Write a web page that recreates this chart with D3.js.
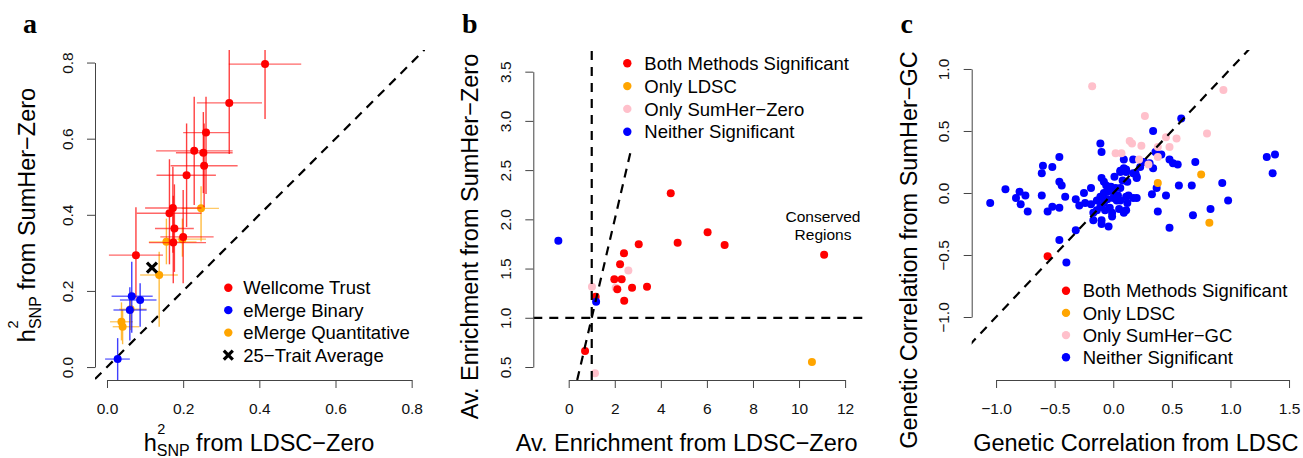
<!DOCTYPE html>
<html><head><meta charset="utf-8">
<script src="https://cdn.jsdelivr.net/npm/d3@7"></script>
<style>body{margin:0;background:#fff}svg{display:block;background:#fff}</style>
</head><body><svg id="chart" width="1303" height="458"></svg>
<script>
// ===================== DATA =====================
// Panel a: [x (LDSC-Zero), y (SumHer-Zero), xLow, xHigh, yLow, yHigh]
const aWellcome = [
  [0.415,0.796,0.32,0.51,0.652,0.87],
  [0.321,0.694,0.236,0.407,0.56,0.87],
  [0.26,0.616,0.20,0.321,0.455,0.71],
  [0.229,0.568,0.129,0.33,0.426,0.71],
  [0.253,0.563,0.181,0.33,0.457,0.67],
  [0.255,0.529,0.167,0.343,0.42,0.64],
  [0.209,0.504,0.13,0.286,0.368,0.64],
  [0.173,0.418,0.10,0.248,0.30,0.526],
  [0.164,0.404,0.078,0.248,0.27,0.546],
  [0.177,0.364,0.126,0.228,0.25,0.48],
  [0.20,0.342,0.14,0.28,0.22,0.465],
  [0.174,0.327,0.11,0.26,0.22,0.45],
  [0.076,0.294,0.005,0.147,0.18,0.42]
];
const aBinary = [
  [0.065,0.186,0.012,0.12,0.09,0.277],
  [0.087,0.176,0.034,0.13,0.106,0.22],
  [0.06,0.15,0.017,0.104,0.07,0.21],
  [0.028,0.021,-0.005,0.06,-0.05,0.076]
];
const aQuant = [
  [0.247,0.417,0.196,0.294,0.33,0.475],
  [0.156,0.329,0.11,0.235,0.27,0.39],
  [0.198,0.336,0.15,0.26,0.29,0.39],
  [0.137,0.242,0.087,0.186,0.106,0.303],
  [0.062,0.152,0.032,0.104,0.097,0.198],
  [0.038,0.119,0.008,0.068,0.07,0.17],
  [0.041,0.106,0.015,0.085,0.06,0.15]
];
const aAverage = [0.118,0.261];
const aLegend = ["Wellcome Trust","eMerge Binary","eMerge Quantitative","25\u2212Trait Average"];
const aTicks = [0,0.2,0.4,0.6,0.8];
const aTickLabels = ["0.0","0.2","0.4","0.6","0.8"];

// Panel b: [x (LDSC-Zero enrichment), y (SumHer-Zero enrichment)]
const bBoth = [[4.43,2.265],[6.03,1.87],[4.73,1.763],[6.77,1.74],[3.04,1.747],[2.4,1.655],[2.23,1.544],
  [1.98,1.391],[2.3,1.391],[2.11,1.29],[2.75,1.306],[3.4,1.316],[2.41,1.174],[1.17,1.214],[0.71,0.663],[11.09,1.641]];
const bOnlyLdsc = [[10.56,0.551]];
const bOnlySumher = [[2.59,1.479],[2.04,1.306],[1.01,1.316],[1.14,0.436]];
const bNeither = [[-0.45,1.783],[1.19,1.164]];
const bLegend = ["Both Methods Significant","Only LDSC","Only SumHer\u2212Zero","Neither Significant"];
const bXTicks = [0,2,4,6,8,10,12];
const bXTickLabels = ["0","2","4","6","8","10","12"];
const bYTicks = [0.5,1,1.5,2,2.5,3,3.5];
const bYTickLabels = ["0.5","1.0","1.5","2.0","2.5","3.0","3.5"];
const bAnnotation = ["Conserved","Regions"];

// Panel c: [x (LDSC genetic correlation), y (SumHer-GC genetic correlation)]
const cNeither = [
  [-1.05,-0.08],[-0.92,0.03],[-0.83,-0.04],[-0.80,0.01],[-0.79,-0.09],[-0.75,-0.02],[-0.73,-0.15],
  [-0.61,-0.02],[-0.61,0.16],[-0.60,0.22],[-0.52,0.21],[-0.46,0.29],[-0.46,0.09],[-0.44,0.06],[-0.41,-0.03],
  [-0.56,-0.15],[-0.52,-0.11],[-0.46,-0.12],[-0.32,-0.30],[-0.46,-0.38],[-0.40,-0.56],
  [-0.32,-0.05],[-0.29,-0.10],[-0.24,-0.08],[-0.25,0.00],[-0.19,0.04],[-0.19,-0.09],
  [-0.11,0.40],[-0.10,0.33],[-0.10,0.12],[-0.08,0.09],[-0.06,0.06],[-0.03,0.04],
  [0.01,0.13],[0.06,0.17],[0.06,0.18],[0.09,0.20],[0.09,0.27],[0.17,0.27],[0.11,0.17],[0.11,0.19],
  [0.12,0.09],[0.17,0.16],[0.19,0.16],[0.20,0.12],[0.20,0.13],
  [0.23,0.21],[0.26,0.25],[0.31,0.24],[0.34,0.50],[0.36,0.33],[0.41,0.31],[0.48,0.27],[0.51,0.24],
  [0.55,0.23],[0.58,0.60],[0.34,0.20],
  [0.70,0.25],[0.67,0.06],[0.56,0.06],[0.45,-0.02],[0.37,0.04],[0.33,-0.01],[0.38,-0.15],[0.48,-0.28],
  [0.68,-0.18],[0.83,-0.13],[0.93,0.08],[0.98,-0.06],
  [1.31,0.29],[1.38,0.31],[1.36,0.16],
  [-0.14,-0.06],[-0.11,-0.03],[-0.08,0.00],[-0.05,0.01],[-0.02,0.05],[0.02,0.04],[0.04,-0.02],[0.03,-0.06],[0.00,-0.04],
  [-0.08,-0.08],[-0.11,-0.11],[-0.14,-0.14],[-0.17,-0.16],[-0.17,-0.22],[-0.10,-0.22],[-0.10,-0.25],[-0.04,-0.27],
  [-0.07,-0.14],[-0.03,-0.12],[-0.01,-0.19],[-0.01,-0.16],[0.06,-0.06],[0.05,-0.13],[0.11,-0.03],[0.12,-0.08],
  [0.11,-0.14],[0.09,-0.16],[0.17,-0.04],[0.20,-0.04],[0.13,-0.02],[0.06,0.04],[0.00,0.01],[-0.05,-0.05],[0.08,0.10]
];
const cOnlySumher = [[-0.18,0.86],[0.94,0.83],[0.27,0.62],[0.80,0.48],[0.45,0.45],[0.54,0.44],[0.14,0.42],[0.16,0.40],
  [0.24,0.38],[0.38,0.37],[0.48,0.37],[0.02,0.32],[0.07,0.32],[0.22,0.27],[0.38,0.29],[0.30,0.23]];
const cOnlyLdsc = [[0.75,0.15],[0.38,0.08],[0.82,-0.24]];
const cBoth = [[-0.56,-0.51]];
const cLegend = ["Both Methods Significant","Only LDSC","Only SumHer\u2212GC","Neither Significant"];
const cXTicks = [-1,-0.5,0,0.5,1,1.5];
const cXTickLabels = ["\u22121.0","\u22120.5","0.0","0.5","1.0","1.5"];
const cYTicks = [-1,-0.5,0,0.5,1];
const cYTickLabels = ["\u22121.0","\u22120.5","0.0","0.5","1.0"];

// ===================== STYLE / LAYOUT =====================
const COL = {red:"#FF0000", blue:"#0000FF", orange:"#FFA500", pink:"#FFC0CB"};
const FONT = "'Liberation Sans', Arial, Helvetica, sans-serif";
const SERIF = "'Liberation Serif', 'Times New Roman', serif";
const DASH = "9,7";
const R = 4;

const svg = d3.select("#chart");

function makePanel(box, xlim, ylim, id){
  const x = d3.scaleLinear().domain(xlim).range([box.left, box.left+box.size]);
  const y = d3.scaleLinear().domain(ylim).range([box.top+box.size, box.top]);
  svg.append("clipPath").attr("id",id).append("rect")
    .attr("x",box.left).attr("y",box.top).attr("width",box.size).attr("height",box.size);
  const g = svg.append("g").attr("clip-path",`url(#${id})`);
  return {x,y,g,box};
}

function drawAxes(p, xt, xl, yt, yl){
  const b = p.box;
  const gx = svg.append("g").attr("transform",`translate(0,${b.top+b.size})`)
    .call(d3.axisBottom(p.x).tickValues(xt).tickFormat((d,i)=>xl[i]).tickSizeInner(8).tickSizeOuter(0));
  gx.attr("font-family",FONT).attr("font-size",15.5);
  gx.select(".domain").attr("d",`M${p.x(xt[0])+0.5},0.5H${p.x(xt[xt.length-1])+0.5}`).attr("stroke","#444");
  gx.selectAll(".tick line").attr("stroke","#444");
  gx.selectAll(".tick text").attr("y",34).attr("dy",null).attr("fill","#111");

  const gy = svg.append("g").attr("transform",`translate(${b.left},0)`)
    .call(d3.axisLeft(p.y).tickValues(yt).tickFormat((d,i)=>yl[i]).tickSizeInner(8).tickSizeOuter(0));
  gy.attr("font-family",FONT).attr("font-size",15.5);
  gy.select(".domain").attr("d",`M0.5,${p.y(yt[0])+0.5}V${p.y(yt[yt.length-1])+0.5}`).attr("stroke","#444");
  gy.selectAll(".tick line").attr("stroke","#444");
  gy.selectAll(".tick text").attr("x",null).attr("dy",null).attr("text-anchor","middle")
    .attr("fill","#111").attr("transform","translate(-22.5,0) rotate(-90)");
}

function plainLabel(text, cx, cy, rot){
  svg.append("text").attr("transform",`translate(${cx},${cy}) rotate(${rot})`)
    .attr("text-anchor","middle").attr("font-family",FONT).attr("font-size",23.5).attr("fill","#000").text(text);
}

function hsnpLabel(rest, cx, cy, rot, supDy){
  const g = svg.append("g").attr("transform",`translate(${cx},${cy}) rotate(${rot})`);
  const inner = g.append("g");
  const t = (s,x,y,fs)=>inner.append("text").attr("x",x).attr("y",y).attr("font-size",fs)
    .attr("font-family",FONT).attr("fill","#000").text(s);
  const h = t("h",0,0,23.5);
  const wh = h.node().getComputedTextLength();
  const sup = t("2",wh+0.5,supDy,14.5);
  const sub = t("SNP",wh,5.5,16);
  const cur = wh + Math.max(sup.node().getComputedTextLength()+0.5, sub.node().getComputedTextLength());
  const r = t(rest,cur+6.5,0,23.5);
  const total = cur + 6.5 + r.node().getComputedTextLength();
  inner.attr("transform",`translate(${-total/2},0)`);
}

function panelLetter(l, x, y){
  svg.append("text").attr("x",x).attr("y",y).attr("font-family",SERIF).attr("font-weight","bold")
    .attr("font-size",28).attr("fill","#000").text(l);
}

function dots(g, p, data, color){
  g.selectAll(null).data(data).enter().append("circle")
    .attr("cx",d=>p.x(d[0])).attr("cy",d=>p.y(d[1])).attr("r",R).attr("fill",color);
}

function errorBars(g, p, data, color){
  g.selectAll(null).data(data).enter().append("line")
    .attr("x1",d=>p.x(d[2])).attr("x2",d=>p.x(d[3])).attr("y1",d=>p.y(d[1])).attr("y2",d=>p.y(d[1]))
    .attr("stroke",color).attr("stroke-width",1.4).attr("stroke-opacity",0.6);
  g.selectAll(null).data(data).enter().append("line")
    .attr("x1",d=>p.x(d[0])).attr("x2",d=>p.x(d[0])).attr("y1",d=>p.y(d[4])).attr("y2",d=>p.y(d[5]))
    .attr("stroke",color).attr("stroke-width",1.4).attr("stroke-opacity",0.75);
}

function cross(sel, cx, cy, s){
  sel.append("path").attr("d",`M${cx-s},${cy-s}L${cx+s},${cy+s}M${cx-s},${cy+s}L${cx+s},${cy-s}`)
    .attr("stroke","#000").attr("stroke-width",3.2).attr("fill","none");
}

function legend(labels, colors, dotX, y0, dy, textX){
  labels.forEach((lab,i)=>{
    const y = y0 + i*dy;
    if (colors[i]==="cross") cross(svg, dotX, y, 4.5);
    else svg.append("circle").attr("cx",dotX).attr("cy",y).attr("r",4.2).attr("fill",colors[i]);
    svg.append("text").attr("x",textX).attr("y",y+6.6).attr("font-family",FONT).attr("font-size",18.5)
      .attr("fill","#000").text(lab);
  });
}

function dashed(g, p, x1, y1, x2, y2){
  g.append("line").attr("x1",p.x(x1)).attr("y1",p.y(y1)).attr("x2",p.x(x2)).attr("y2",p.y(y2))
    .attr("stroke","#000").attr("stroke-width",2.2).attr("stroke-dasharray",DASH);
}

// ===================== PANEL A =====================
const pa = makePanel({left:95, top:50, size:330}, [-0.0315,0.835], [-0.034,0.833], "clipA");
dashed(pa.g, pa, -0.0315, -0.0315, 0.835, 0.835);
errorBars(pa.g, pa, aQuant, COL.orange); dots(pa.g, pa, aQuant, COL.orange);
errorBars(pa.g, pa, aWellcome, COL.red); dots(pa.g, pa, aWellcome, COL.red);
errorBars(pa.g, pa, aBinary, COL.blue); dots(pa.g, pa, aBinary, COL.blue);
cross(pa.g, pa.x(aAverage[0]), pa.y(aAverage[1]), 5);
drawAxes(pa, aTicks, aTickLabels, aTicks, aTickLabels);
hsnpLabel("from LDSC\u2212Zero", 259, 450.5, 0, -17);
hsnpLabel("from SumHer\u2212Zero", 35, 215, -90, -17);
legend(aLegend, [COL.red, COL.blue, COL.orange, "cross"], 228.3, 287.7, 22.45, 243.3);
panelLetter("a", 23, 33);

// ===================== PANEL B =====================
const pb = makePanel({left:533.3, top:50, size:330}, [-1.537,12.79], [0.368,3.72], "clipB");
dots(pb.g, pb, bOnlySumher, COL.pink);
dots(pb.g, pb, bOnlyLdsc, COL.orange);
dots(pb.g, pb, bBoth, COL.red);
dots(pb.g, pb, bNeither, COL.blue);
dashed(pb.g, pb, 1, 0.368, 1, 3.72);
dashed(pb.g, pb, -1.537, 1, 12.79, 1);
dashed(pb.g, pb, 0.368, 0.368, 3.72, 3.72);
// legend background (white) as in R legend(bg="white")
svg.append("rect").attr("x",612).attr("y",50).attr("width",251).attr("height",100).attr("fill","#fff");
drawAxes(pb, bXTicks, bXTickLabels, bYTicks, bYTickLabels);
plainLabel("Av. Enrichment from LDSC\u2212Zero", 686.7, 451.2, 0);
plainLabel("Av. Enrichment from SumHer\u2212Zero", 478.3, 236.5, -90);
legend(bLegend, [COL.red, COL.orange, COL.pink, COL.blue], 627.3, 63.3, 22.8, 644.3);
bAnnotation.forEach((s,i)=>svg.append("text").attr("x",823).attr("y",221.5+i*18.5).attr("text-anchor","middle")
  .attr("font-family",FONT).attr("font-size",15.5).attr("fill","#000").text(s));
panelLetter("b", 462, 33);

// ===================== PANEL C =====================
const pc = makePanel({left:971.7, top:50, size:330}, [-1.208,1.608], [-1.508,1.153], "clipC");
dots(pc.g, pc, cNeither, COL.blue);
dots(pc.g, pc, cOnlySumher, COL.pink);
dots(pc.g, pc, cOnlyLdsc, COL.orange);
dots(pc.g, pc, cBoth, COL.red);
dashed(pc.g, pc, -1.508, -1.508, 1.608, 1.608);
drawAxes(pc, cXTicks, cXTickLabels, cYTicks, cYTickLabels);
plainLabel("Genetic Correlation from LDSC", 1135.8, 450.5, 0);
plainLabel("Genetic Correlation from SumHer\u2212GC", 916.7, 250, -90);
legend(cLegend, [COL.red, COL.orange, COL.pink, COL.blue], 1066, 290.7, 22.2, 1082.7);
panelLetter("c", 900.5, 33);
</script></body></html>
